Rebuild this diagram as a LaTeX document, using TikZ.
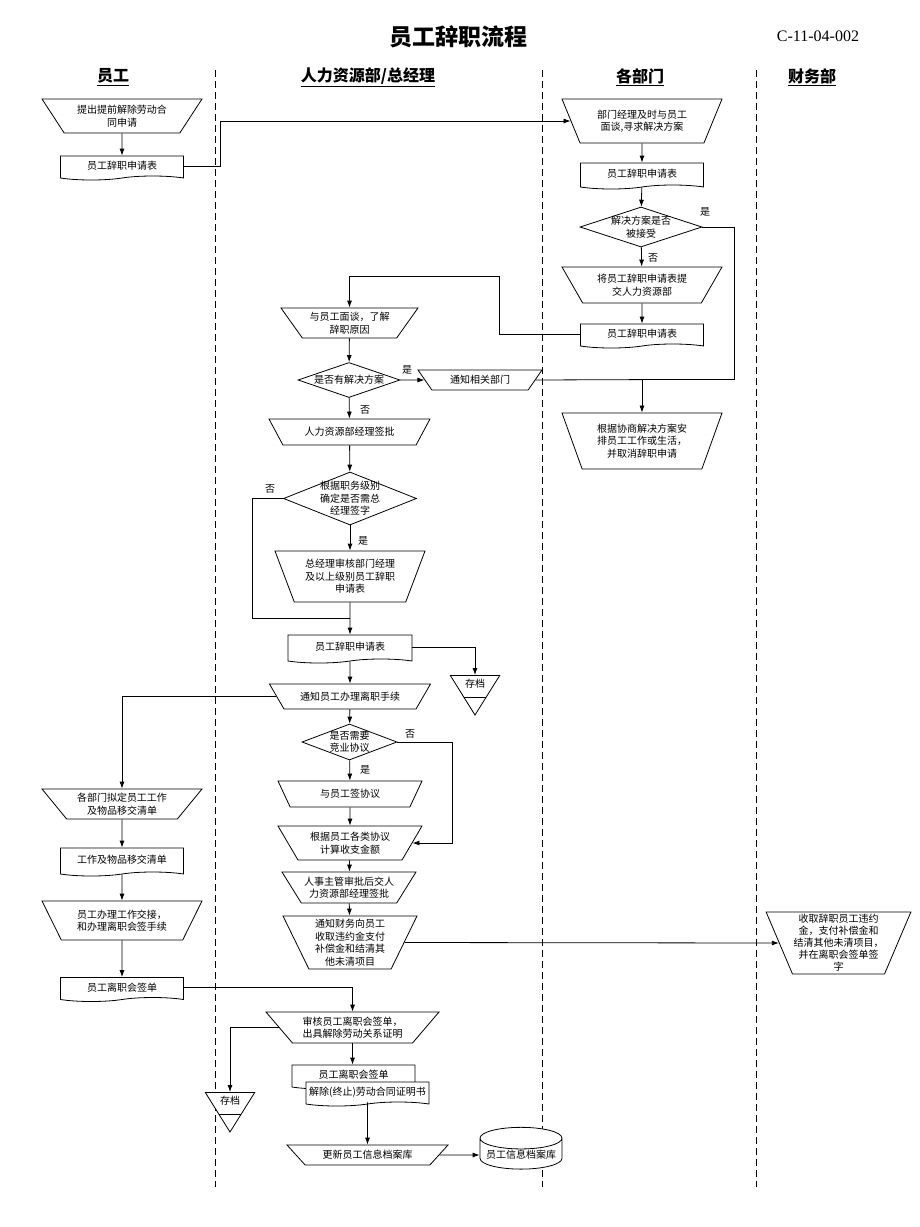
\documentclass[tikz,border=0pt]{standalone}
\usepackage{fontspec}
\setmainfont{Liberation Serif}
\newfontfamily\cjk{Noto Sans CJK SC}
\usepackage{tikz}
\usetikzlibrary{shapes,arrows.meta,positioning}

\begin{document}
\begin{tikzpicture}[x=1pt, y=-1pt,
    manual/.style={trapezium, shape border rotate=180, trapezium stretches body, draw, fill=white, line width=0.8pt, inner sep=1pt, align=center, font=\cjk\fontsize{10}{12.5}\selectfont},
    docu/.style={tape, tape bend top=none, tape bend height=4pt, draw, fill=white, line width=0.8pt, minimum width=123, minimum height=24, inner sep=1pt, font=\cjk\fontsize{10}{12.5}\selectfont},
    decision/.style={diamond, aspect=2.5, draw, fill=white, line width=0.8pt, inner sep=-4pt, align=center, font=\cjk\fontsize{10}{12.5}\selectfont},
    store/.style={isosceles triangle, shape border rotate=-90, isosceles triangle apex angle=64, draw, fill=white, line width=0.8pt, inner xsep=4pt, inner ysep=4pt, anchor=north, font=\cjk\fontsize{10}{12}\selectfont,
        path picture={\draw[line width=0.8pt] ([yshift=-22pt]path picture bounding box.north west) -- ([yshift=-22pt]path picture bounding box.north east);}},
    database/.style={cylinder, shape border rotate=90, shape aspect=0.3, draw, fill=white, line width=0.8pt, minimum width=82, minimum height=34, inner sep=1pt, font=\cjk\fontsize{10}{12}\selectfont},
    lanehead/.style={font=\cjk\bfseries\fontsize{16}{18}\selectfont},
    answer/.style={font=\cjk\fontsize{10}{12}\selectfont, inner sep=0pt},
    lane/.style={line width=1pt, dash pattern=on 7pt off 4pt},
    arrow/.style={-{Latex[length=7pt,width=5pt]}, line width=0.8pt},
    line/.style={line width=0.8pt}
]
    \useasboundingbox (0,0) rectangle (920,1227);

    % Title and lanes
    \node[font=\cjk\bfseries\fontsize{23}{25}\selectfont] (title) at (458,37) {员工辞职流程};
    \node[font=\fontsize{16}{18}\selectfont] (code) at (818,36) {C-11-04-002};
    \node[lanehead] (h_emp) at (113,77) {\underline{员工}};
    \node[lanehead] (h_hr) at (368,77) {\underline{人力资源部/总经理}};
    \node[lanehead] (h_dept) at (640,77) {\underline{各部门}};
    \node[lanehead] (h_fin) at (812,77) {\underline{财务部}};
    \draw[lane] (215,70) -- (215,1187);
    \draw[lane] (542,70) -- (542,1187);
    \draw[lane] (756,70) -- (756,1187);

    % Employee
    \node[manual, minimum width=160, minimum height=34, trapezium angle=47] (t_apply) at (122,116) {提出提前解除劳动合\\同申请};
    \node[docu] (d_form1) at (122,166) {员工辞职申请表};
    \node[manual, minimum width=160, minimum height=30, trapezium angle=44] (t_list) at (122,804) {各部门拟定员工工作\\及物品移交清单};
    \node[docu, minimum height=28] (d_list) at (122,860) {工作及物品移交清单};
    \node[manual, minimum width=160, minimum height=39, trapezium angle=51] (t_handover) at (122,920.5) {员工办理工作交接，\\和办理离职会签手续};
    \node[docu] (d_sign) at (122,987.5) {员工离职会签单};

    % Departments
    \node[manual, minimum width=160, minimum height=44, trapezium angle=54] (t_talk1) at (642,121) {部门经理及时与员工\\面谈,寻求解决方案};
    \node[docu, minimum height=26] (d_form2) at (642,174) {员工辞职申请表};
    \node[decision, minimum width=122, minimum height=40] (q_accept) at (641,227) {解决方案是否\\被接受};
    \node[manual, minimum width=160, minimum height=36, trapezium angle=49] (t_submit) at (642,285) {将员工辞职申请表提\\交人力资源部};
    \node[docu] (d_form3) at (642,334) {员工辞职申请表};
    \node[manual, minimum width=160, minimum height=56, trapezium angle=61] (t_cancel) at (642,441) {根据协商解决方案安\\排员工工作或生活，\\并取消辞职申请};

    % HR / general manager
    \node[manual, minimum width=137, minimum height=30, trapezium angle=48] (t_talk2) at (349.5,323) {与员工面谈，了解\\辞职原因};
    \node[decision, minimum width=102, minimum height=35] (q_solution) at (349,380) {是否有解决方案};
    \node[manual, minimum width=124, minimum height=20, trapezium angle=39] (t_notify) at (480,380) {通知相关部门};
    \node[manual, minimum width=161, minimum height=26, trapezium angle=39] (t_hrsign) at (349.5,432) {人力资源部经理签批};
    \node[decision, minimum width=133, minimum height=53] (q_level) at (350,498.5) {根据职务级别\\确定是否需总\\经理签字};
    \node[manual, minimum width=150, minimum height=51, trapezium angle=62] (t_gm) at (350,576.5) {总经理审核部门经理\\及以上级别员工辞职\\申请表};
    \node[docu, minimum width=124, minimum height=28] (d_form4) at (350,647) {员工辞职申请表};
    \node[store] (a_store1) at (475,675) {存档};
    \node[manual, minimum width=161, minimum height=25, trapezium angle=38] (t_leave) at (350,696.5) {通知员工办理离职手续};
    \node[decision, minimum width=95, minimum height=36] (q_compete) at (349.5,742) {是否需要\\竞业协议};
    \node[manual, minimum width=144, minimum height=26, trapezium angle=43] (t_agree) at (350,794) {与员工签协议};
    \node[manual, minimum width=144, minimum height=34, trapezium angle=50] (t_calc) at (350,843) {根据员工各类协议\\计算收支金额};
    \node[manual, minimum width=134, minimum height=31, trapezium angle=51] (t_approve) at (349,887.5) {人事主管审批后交人\\力资源部经理签批};
    \node[manual, minimum width=134, minimum height=53, trapezium angle=62] (t_finance) at (350,942.5) {通知财务向员工\\收取违约金支付\\补偿金和结清其\\他未清项目};
    \node[manual, minimum width=173, minimum height=31, trapezium angle=42] (t_check) at (352.5,1027.5) {审核员工离职会签单，\\出具解除劳动关系证明};
    \node[store] (a_store2) at (230,1092) {存档};
    \node[docu] (d_sign2) at (353.5,1075) {员工离职会签单};
    \node[docu] (d_cert) at (367.5,1092) {解除(终止)劳动合同证明书};
    \node[manual, minimum width=161, minimum height=20, trapezium angle=32] (t_update) at (367.5,1155) {更新员工信息档案库};
    \node[database] (db) at (521,1155) {员工信息档案库};

    % Finance
    \node[manual, minimum width=143, minimum height=62, trapezium angle=66, font=\cjk\fontsize{10}{12}\selectfont] (t_fin2) at (838.5,943) {收取辞职员工违约\\金，支付补偿金和\\结清其他未清项目，\\并在离职会签单签\\字};

    % Answers
    \node[answer] (ans1) at (705,212) {是};
    \node[answer] (ans2) at (653,258) {否};
    \node[answer] (ans3) at (407,370) {是};
    \node[answer] (ans4) at (365,410) {否};
    \node[answer] (ans5) at (270,489) {否};
    \node[answer] (ans6) at (363,541) {是};
    \node[answer] (ans7) at (410,734) {否};
    \node[answer] (ans8) at (365,770) {是};

    % Arrows
    \draw[arrow] (t_apply) -- (d_form1);
    \draw[arrow] (d_form1.east) -- ++(36,0) |- (t_talk1.west);
    \draw[arrow] (t_talk1) -- (d_form2);
    \draw[arrow] (d_form2) -- (q_accept);
    \draw[arrow] (q_accept) -- (t_submit);
    \draw[arrow] (t_submit) -- (d_form3);
    \draw[arrow] (d_form3.west) -- ++(-81,0) |- ([yshift=31pt]t_talk2.north) -- (t_talk2.north);
    \draw[arrow] (q_accept.east) -- ++(32,0) |- ([yshift=33pt]t_cancel.north) -- (t_cancel.north);
    \draw[line] (t_notify.east) -- ([yshift=33pt]t_cancel.north);
    \draw[arrow] (t_talk2) -- (q_solution);
    \draw[arrow] (q_solution) -- (t_notify);
    \draw[arrow] (q_solution) -- (t_hrsign);
    \draw[arrow] (t_hrsign) -- (q_level);
    \draw[arrow] (q_level) -- (t_gm);
    \draw[line] (q_level.west) -- ++(-31,0) |- ([yshift=16pt]d_form4.north);
    \draw[arrow] (t_gm) -- (d_form4);
    \draw[arrow] (d_form4.east) -| (a_store1.north);
    \draw[arrow] (d_form4) -- (t_leave);
    \draw[arrow] (t_leave.west) -| (t_list.north);
    \draw[arrow] (t_leave) -- (q_compete);
    \draw[arrow] (q_compete) -- (t_agree);
    \draw[arrow] (q_compete.east) -- ++(55,0) |- (t_calc.east);
    \draw[arrow] (t_agree) -- (t_calc);
    \draw[arrow] (t_calc) -- (t_approve);
    \draw[arrow] (t_approve) -- (t_finance);
    \draw[arrow] (t_finance.east) -- (t_fin2.west);
    \draw[arrow] (t_list) -- (d_list);
    \draw[arrow] (d_list) -- (t_handover);
    \draw[arrow] (t_handover) -- (d_sign);
    \draw[arrow] (d_sign.east) -| (t_check.north);
    \draw[arrow] (t_check.west) -| (a_store2.north);
    \draw[arrow] (t_check.south) -- (d_sign2.north -| t_check.south);
    \draw[arrow] (d_cert.south) -- (t_update.north);
    \draw[arrow] (t_update.east) -- (db.west);

\end{tikzpicture}
\end{document}
